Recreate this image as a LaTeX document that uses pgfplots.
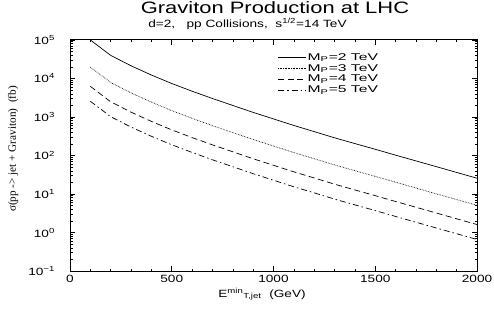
\documentclass[border=0pt]{standalone}
\usepackage{pgfplots}
\pgfplotsset{compat=1.18}
\usepackage{fontspec}
\setmainfont{Liberation Sans}
\newfontfamily\seriffont{Liberation Serif}
\begin{document}
\begin{tikzpicture}
\path[use as bounding box] (-70pt,-39pt) rectangle (424pt,271pt);
\begin{axis}[
  scale only axis,
  width=407pt, height=231pt,
  at={(0pt,0pt)}, anchor=south west,
  ymode=log,
  xmin=0, xmax=2000, ymin=0.1, ymax=1e5,
  xtick={0,500,1000,1500,2000},
  minor xtick={100,200,300,400,600,700,800,900,1100,1200,1300,1400,1600,1700,1800,1900},
  ytick={0.1,1,10,100,1000,10000,100000},
  yticklabels={10\textsuperscript{−1},10\textsuperscript{0},10\textsuperscript{1},10\textsuperscript{2},10\textsuperscript{3},10\textsuperscript{4},10\textsuperscript{5}},
  xticklabels={0,500,1000,1500,2000},
  /pgf/number format/assume math mode=true,
  tick align=inside,
  major tick length=5pt,
  minor tick length=2.5pt,
  tick style={black, line width=0.6pt},
  axis line style={line width=1pt},
  tick label style={font=\fontsize{10.5}{12}\selectfont, xscale=1.3},
  xticklabel style={yshift=-1pt},
  yticklabel style={xshift=-8pt},
  legend cell align=left,
  legend style={at={(0.503,0.955)}, anchor=north west, draw=none, fill=none,
    font=\fontsize{9.8}{11}\selectfont,
    nodes={inner sep=0.6pt, text height=7pt, text depth=1.5pt, xscale=1.6},
    row sep=1.2pt},
  legend image code/.code={\draw[#1] (0pt,0pt) -- (28pt,0pt);},
]
\addplot[black, line width=0.7pt] coordinates {
(100,100000) (200,39811) (300,21380) (400,12303) (500,7413) (600,4677) (700,3020)
(800,1995) (900,1318) (1000,891) (1100,603) (1200,417) (1300,288) (1400,204)
(1500,145) (1600,102) (1700,72.4) (1800,51.3) (1900,36.3) (2000,25.7)};
\addlegendentry{M\textsubscript{P}=2 TeV}
\addplot[black, line width=0.7pt, dash pattern=on 0.6pt off 1pt] coordinates {
(100,19763) (200,7868) (300,4225) (400,2431) (500,1465) (600,924) (700,597)
(800,394) (900,260) (1000,176) (1100,119) (1200,82.4) (1300,56.9) (1400,40.3)
(1500,28.7) (1600,20.2) (1700,14.3) (1800,10.1) (1900,7.17) (2000,5.08)};
\addlegendentry{M\textsubscript{P}=3 TeV}
\addplot[black, line width=0.7pt, dash pattern=on 6pt off 3.5pt] coordinates {
(100,6250) (200,2488) (300,1336) (400,769) (500,463) (600,292) (700,189)
(800,125) (900,82.4) (1000,55.7) (1100,37.7) (1200,26.1) (1300,18.0) (1400,12.75)
(1500,9.06) (1600,6.38) (1700,4.53) (1800,3.21) (1900,2.27) (2000,1.61)};
\addlegendentry{M\textsubscript{P}=4 TeV}
\addplot[black, line width=0.7pt, dash pattern=on 6pt off 3pt on 1.5pt off 3pt] coordinates {
(100,2560) (200,1019) (300,547) (400,315) (500,190) (600,120) (700,77.3)
(800,51.1) (900,33.7) (1000,22.8) (1100,15.4) (1200,10.7) (1300,7.37) (1400,5.22)
(1500,3.71) (1600,2.61) (1700,1.85) (1800,1.31) (1900,0.929) (2000,0.658)};
\addlegendentry{M\textsubscript{P}=5 TeV}
\end{axis}
\node[font=\fontsize{16.5}{19}\selectfont, xscale=1.33] at (205pt,263pt) {Graviton Production at LHC};
\node[font=\fontsize{10.5}{12}\selectfont, xscale=1.3] at (177.5pt,247pt) {d=2,~~~pp Collisions,~~s\textsuperscript{1/2}=14 TeV};
\node[font=\fontsize{10.5}{12}\selectfont, xscale=1.3] at (192pt,-23pt) {E\textsuperscript{min}\textsubscript{T,jet}~~(GeV)};
\node[font=\seriffont\fontsize{11.2}{13}\selectfont, rotate=90] at (-57pt,122pt) {σ(pp -> jet + Graviton)~~(fb)};
\end{tikzpicture}
\end{document}
